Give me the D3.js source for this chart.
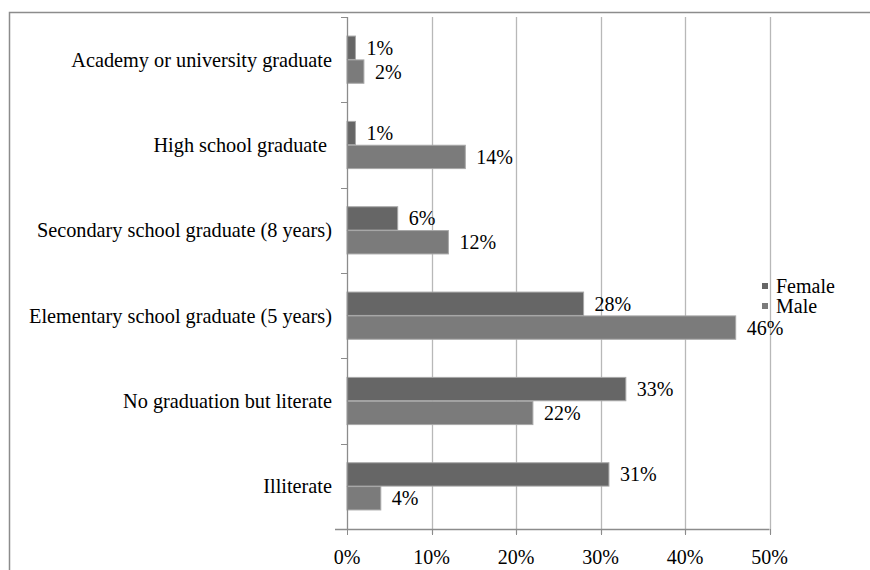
<!DOCTYPE html>
<html><head><meta charset="utf-8">
<script src="https://cdn.jsdelivr.net/npm/d3@7/dist/d3.min.js"></script>
<style>body{margin:0;background:#fff}svg{display:block}</style>
</head><body><svg id="c" width="870" height="570" font-family="'Liberation Serif', 'Times New Roman', serif"></svg>
<script>
const categories = ["Academy or university graduate","High school graduate ","Secondary school graduate (8 years)","Elementary school graduate (5 years)","No graduation but literate","Illiterate"];
const female = [1,1,6,28,33,31];
const male = [2,14,12,46,22,4];
const seriesNames = ["Female","Male"];
const xTicks = [0,10,20,30,40,50];

const FF="Liberation Serif";
const FS=20;
const svg = d3.select("#c");
const m={left:347,right:769.5,top:17,bottom:529};
svg.append("rect").attr("x",9.5).attr("y",12.5).attr("width",900).attr("height",600).attr("fill","none").attr("stroke","#8c8c8c").attr("stroke-width",1.5);

const x=d3.scaleLinear().domain([0,50]).range([m.left,m.right]);
const y=d3.scaleBand().domain(categories).range([m.top,m.bottom]);
const inner=d3.scaleBand().domain(seriesNames).range([0,y.bandwidth()]).paddingInner(0.02).paddingOuter(0.8);
const colors={Female:"#666666",Male:"#7b7b7b"};

svg.append("g").selectAll("line").data(xTicks.slice(1)).join("line")
 .attr("x1",d=>Math.round(x(d))+0.5).attr("x2",d=>Math.round(x(d))+0.5)
 .attr("y1",m.top).attr("y2",m.bottom+5).attr("stroke","#b8b8b8").attr("stroke-width",1.3);

const rows=categories.map((c,i)=>({c,vals:[{s:"Female",v:female[i]},{s:"Male",v:male[i]}]}));
const g=svg.append("g");
rows.forEach(r=>{
  r.vals.forEach(d=>{
    const yy=y(r.c)+inner(d.s);
    g.append("rect").attr("x",x(0)).attr("y",yy).attr("width",x(d.v)-x(0)).attr("height",inner.bandwidth())
     .attr("fill",colors[d.s]).attr("stroke","#a8a8a8").attr("stroke-width",1);
    g.append("text").attr("x",x(d.v)+11).attr("y",yy+inner.bandwidth()/2).attr("dy","0.35em")
     .attr("font-family",FF).attr("font-size",FS).text(d.v+"%");
  });
});

const ya=svg.append("g");
ya.append("line").attr("x1",m.left+0.5).attr("x2",m.left+0.5).attr("y1",m.top).attr("y2",m.bottom).attr("stroke","#8c8c8c").attr("stroke-width",1.3);
const bounds=categories.map(c=>y(c)).concat([m.bottom]);
ya.selectAll("line.t").data(bounds).join("line").attr("class","t")
 .attr("x1",m.left-6).attr("x2",m.left).attr("y1",d=>Math.round(d)+0.5).attr("y2",d=>Math.round(d)+0.5).attr("stroke","#8c8c8c");
ya.selectAll("text").data(categories).join("text")
 .attr("x",332).attr("y",d=>y(d)+y.bandwidth()/2).attr("dy","0.35em").attr("text-anchor","end")
 .attr("font-family",FF).attr("font-size",20.3).style("white-space","pre").text(d=>d);

const xa=svg.append("g");
xa.append("line").attr("x1",m.left-12).attr("x2",m.right).attr("y1",m.bottom+0.5).attr("y2",m.bottom+0.5).attr("stroke","#8c8c8c").attr("stroke-width",1.3);
xa.selectAll("line.t").data(xTicks).join("line").attr("class","t")
 .attr("x1",d=>Math.round(x(d))+0.5).attr("x2",d=>Math.round(x(d))+0.5).attr("y1",m.bottom).attr("y2",m.bottom+6).attr("stroke","#8c8c8c");
xa.selectAll("text").data(xTicks).join("text")
 .attr("x",d=>x(d)).attr("y",557).attr("dy","0.35em").attr("text-anchor","middle")
 .attr("font-family",FF).attr("font-size",FS).text(d=>d+"%");

const lg=svg.append("g");
seriesNames.forEach((s,i)=>{
  const cy=286+i*20;
  lg.append("rect").attr("x",762).attr("y",cy-3).attr("width",6).attr("height",6).attr("fill",colors[s]);
  lg.append("text").attr("x",776).attr("y",cy).attr("dy","0.35em").attr("font-family",FF).attr("font-size",FS).text(s);
});
</script></body></html>
